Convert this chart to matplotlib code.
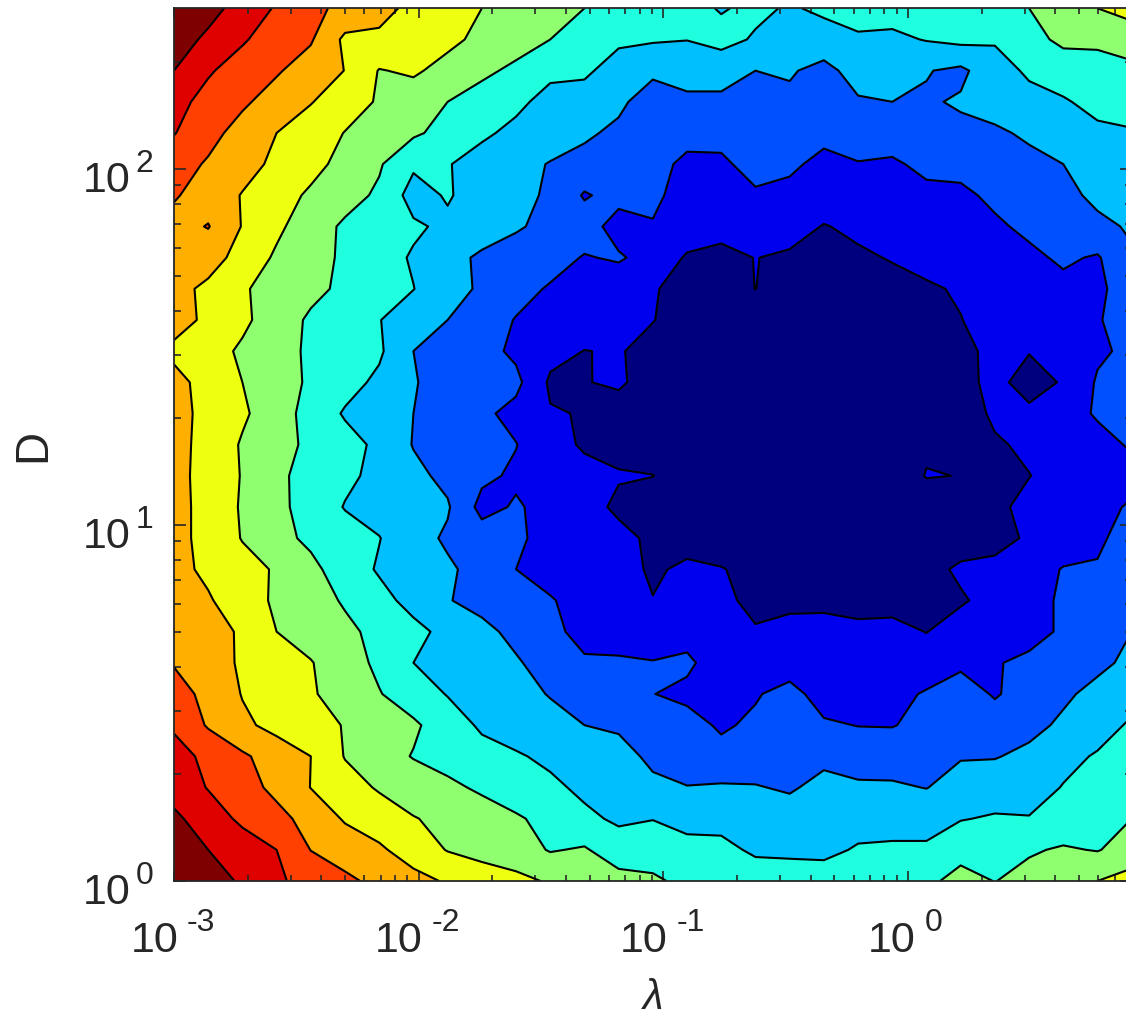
# -*- coding: utf-8 -*-
"""Filled contour map over lambda and D, both on log scales."""
import numpy as np
import matplotlib
matplotlib.use("Agg")
import matplotlib.pyplot as plt

# grid range in decades, the right edge of the axes runs past the picture
LOG_LAMBDA = np.linspace(-3, 0.915, 29)
LOG_D = np.linspace(2.452, 0, 29)   # top row first

LEVELS = [-1, 1, 2, 3, 4, 5, 6, 7, 8, 9, 10, 12]
LINE_LEVELS = [1, 2, 3, 4, 5, 6, 7, 8, 9, 10]
BAND_COLORS = ["#00007f", "#0000ef", "#0050ff", "#00bfff", "#1fffdf", "#8fff6f",
               "#efff10", "#ffaf00", "#ff4000", "#df0000", "#7f0000"]

X_MAJOR = [-3, -2, -1, 0]
Y_MAJOR = [0, 1, 2]

# values, one row per D, top row first
Z = np.array([
    [11.0, 10.35, 9.6, 8.9, 8.25, 7.75, 7.25, 6.8, 6.4, 6.0, 5.65, 5.35, 5.0, 4.7, 4.5, 4.3, 3.93, 4.2, 3.9, 4.18, 4.3, 4.4, 4.5, 4.6, 4.7, 5.0, 5.5, 6.0, 6.4],
    [10.48, 9.8, 9.1, 8.55, 8.1, 6.8, 6.85, 6.7, 6.25, 5.75, 5.4, 5.0, 4.7, 4.2, 4.1, 4.02, 4.3, 3.9, 3.6, 3.6, 3.9, 3.8, 4.05, 4.25, 4.1, 4.7, 5.2, 5.2, 5.4],
    [10.0, 9.1, 8.6, 8.1, 7.55, 6.98, 5.95, 6.15, 5.65, 5.2, 4.8, 4.2, 4.2, 3.5, 3.2, 3.4, 3.4, 3.0, 3.1, 2.7, 3.4, 3.5, 3.05, 2.8, 3.6, 4.15, 4.5, 4.6, 4.8],
    [9.3, 8.7, 8.15, 7.6, 7.05, 6.45, 5.9, 5.45, 5.0, 4.6, 4.2, 3.7, 3.5, 3.2, 2.5, 2.8, 2.8, 2.7, 2.8, 2.5, 2.9, 3.0, 2.9, 3.1, 3.4, 3.7, 3.9, 4.3, 4.5],
    [9.05, 8.3, 7.65, 7.0, 6.5, 5.97, 5.55, 5.15, 4.68, 4.15, 3.78, 3.47, 3.15, 2.8, 2.5, 2.3, 2.35, 2.4, 2.4, 2.3, 2.5, 2.5, 2.6, 2.8, 2.85, 3.15, 3.4, 3.8, 3.9],
    [8.4, 7.9, 7.35, 6.8, 6.3, 5.7, 5.1, 4.16, 4.05, 3.65, 3.3, 2.95, 2.7, 2.45, 2.3, 1.8, 1.8, 2.4, 2.2, 1.7, 1.95, 1.85, 2.25, 2.3, 2.55, 2.75, 3.0, 3.4, 3.6],
    [8.1, 7.55, 6.95, 6.4, 5.85, 5.35, 4.85, 3.6, 4.1, 3.5, 3.2, 2.9, 1.9, 2.35, 2.15, 1.7, 1.6, 1.85, 1.7, 1.55, 1.6, 1.5, 1.75, 1.8, 2.2, 2.45, 2.75, 3.2, 3.35],
    [7.65, 8.05, 6.95, 6.2, 5.45, 4.85, 4.5, 4.15, 3.8, 3.45, 3.1, 2.75, 2.5, 1.55, 1.95, 1.5, 1.3, 1.4, 1.4, 0.95, 1.2, 1.25, 1.35, 1.45, 1.85, 2.2, 2.5, 2.8, 3.1],
    [7.4, 7.4, 6.65, 5.85, 5.35, 4.85, 4.4, 3.9, 3.3, 2.85, 2.6, 2.4, 1.93, 2.12, 1.6, 0.9, 0.75, 1.02, 0.85, 0.6, 0.85, 1.06, 1.25, 1.4, 1.6, 1.8, 2.15, 1.9, 2.9],
    [7.3, 6.8, 6.1, 5.65, 5.25, 4.8, 4.4, 4.02, 3.4, 2.85, 2.35, 1.9, 1.6, 1.35, 1.07, 0.7, 0.6, 1.01, 0.6, 0.45, 0.5, 0.7, 0.9, 1.08, 1.4, 1.6, 1.75, 1.8, 2.5],
    [7.4, 6.8, 6.2, 5.5, 4.85, 4.45, 4.03, 3.5, 3.0, 2.5, 1.95, 1.75, 1.5, 1.27, 1.03, 0.6, 0.5, 0.5, 0.45, 0.35, 0.4, 0.5, 0.7, 0.98, 1.3, 1.5, 1.7, 1.9, 2.6],
    [6.78, 6.4, 5.85, 5.35, 4.85, 4.45, 4.15, 3.0, 2.6, 2.35, 1.8, 1.3, 0.98, 1.07, 0.7, 0.55, 0.4, 0.4, 0.4, 0.3, 0.3, 0.35, 0.5, 0.8, 1.2, 1.05, 1.45, 1.85, 2.2],
    [7.3, 6.65, 6.0, 5.45, 4.85, 4.35, 3.8, 3.05, 2.7, 2.35, 2.25, 0.85, 0.97, 1.1, 0.7, 0.5, 0.35, 0.3, 0.3, 0.25, 0.25, 0.3, 0.4, 0.65, 1.31, 0.55, 1.1, 2.1, 2.8],
    [7.3, 6.75, 6.15, 5.45, 4.65, 3.9, 3.45, 3.0, 2.6, 2.2, 1.7, 1.07, 0.95, 0.7, 0.5, 0.4, 0.3, 0.3, 0.25, 0.2, 0.2, 0.25, 0.35, 0.55, 1.15, 1.23, 1.6, 2.1, 2.6],
    [7.3, 6.7, 5.9, 5.35, 4.8, 4.35, 3.8, 2.95, 2.65, 2.35, 2.03, 1.3, 0.9, 0.7, 0.5, 0.35, 0.3, 0.25, 0.25, 0.2, 0.2, 0.3, 0.85, 0.7, 0.9, 1.15, 1.5, 1.7, 2.1],
    [7.35, 6.6, 5.95, 5.2, 4.65, 4.2, 3.75, 3.25, 2.75, 2.2, 1.85, 1.6, 1.25, 1.08, 1.02, 0.4, 0.3, 0.3, 0.25, 0.25, 0.25, 0.35, 1.05, 0.98, 0.7, 0.98, 1.3, 1.6, 1.7],
    [7.35, 6.65, 5.9, 5.25, 4.6, 3.95, 3.65, 3.35, 3.1, 1.7, 2.1, 1.7, 1.4, 0.8, 0.4, 0.3, 0.25, 0.3, 0.25, 0.25, 0.25, 0.3, 0.4, 0.55, 0.8, 1.25, 1.4, 1.75, 2.1],
    [7.3, 6.7, 5.95, 5.3, 4.8, 4.4, 4.03, 3.4, 2.85, 2.45, 2.1, 1.8, 1.5, 1.3, 0.8, 0.6, 0.45, 0.35, 0.3, 0.3, 0.3, 0.3, 0.4, 0.55, 0.75, 1.1, 1.4, 1.8, 2.5],
    [7.3, 6.8, 6.35, 5.9, 5.25, 4.5, 3.9, 3.5, 3.15, 2.65, 2.0, 1.75, 1.5, 1.4, 0.85, 1.2, 1.05, 0.7, 0.5, 0.4, 0.35, 0.4, 0.7, 1.15, 1.2, 1.5, 2.06, 2.1, 2.8],
    [7.7, 7.1, 6.45, 5.85, 5.4, 4.9, 4.3, 3.7, 3.05, 2.7, 2.4, 2.05, 1.75, 1.5, 1.03, 1.3, 1.35, 0.6, 0.85, 0.8, 0.7, 0.7, 0.6, 0.9, 1.3, 1.75, 2.1, 2.5, 2.9],
    [7.9, 7.6, 6.8, 6.0, 5.6, 5.2, 4.75, 4.25, 3.75, 3.25, 2.75, 2.2, 1.75, 1.5, 1.4, 1.6, 1.5, 1.13, 1.2, 1.3, 1.2, 1.25, 0.98, 1.4, 1.5, 1.75, 2.1, 2.6, 3.0],
    [7.95, 7.5, 6.85, 6.45, 6.05, 5.45, 4.8, 4.0, 3.7, 3.4, 3.1, 2.6, 2.1, 2.15, 2.05, 2.2, 1.43, 1.4, 1.4, 1.3, 1.3, 1.35, 1.4, 1.8, 1.95, 2.15, 2.4, 2.8, 3.2],
    [8.3, 7.8, 6.95, 6.5, 6.1, 5.6, 5.05, 4.5, 3.95, 3.6, 3.3, 2.95, 2.65, 2.3, 2.02, 1.75, 1.6, 1.9, 2.4, 1.5, 1.45, 1.7, 2.1, 2.5, 1.9, 2.45, 2.85, 3.25, 3.6],
    [8.85, 7.9, 7.2, 6.7, 6.35, 5.95, 5.55, 5.15, 4.5, 3.85, 3.55, 3.3, 3.0, 2.9, 2.6, 2.4, 1.85, 2.2, 2.5, 2.15, 1.97, 1.95, 2.3, 2.5, 2.5, 2.75, 3.15, 3.55, 4.15],
    [9.4, 8.75, 8.15, 7.55, 7.0, 5.95, 5.4, 4.95, 4.65, 4.35, 4.1, 3.8, 3.5, 3.25, 2.85, 2.55, 2.35, 2.55, 2.6, 2.8, 2.7, 2.65, 2.6, 2.95, 2.95, 3.2, 3.7, 4.1, 4.5],
    [9.6, 8.95, 8.4, 7.75, 6.98, 6.4, 5.9, 5.5, 5.2, 4.85, 4.55, 4.2, 3.8, 3.65, 3.15, 3.03, 3.1, 3.05, 2.9, 3.25, 3.1, 3.1, 2.98, 3.3, 3.5, 3.55, 4.05, 4.5, 4.85],
    [10.2, 9.5, 8.8, 8.3, 7.65, 6.9, 6.5, 6.05, 5.75, 5.45, 5.1, 4.75, 4.2, 3.85, 3.98, 3.7, 3.7, 3.4, 3.4, 3.35, 3.6, 3.5, 3.5, 3.95, 4.1, 4.05, 4.4, 4.8, 5.0],
    [10.9, 10.0, 9.5, 9.0, 7.98, 7.55, 7.15, 6.55, 5.95, 5.65, 5.45, 4.93, 5.1, 4.45, 4.4, 4.3, 4.25, 3.85, 3.8, 3.75, 4.1, 4.2, 4.2, 4.7, 4.7, 4.9, 5.1, 4.95, 5.4],
    [11.3, 10.5, 9.85, 9.15, 8.65, 8.2, 7.75, 7.3, 6.9, 6.55, 6.25, 5.9, 5.65, 5.35, 5.2, 4.7, 4.6, 4.5, 4.5, 4.5, 4.5, 4.6, 4.8, 5.3, 4.98, 5.3, 5.6, 6.0, 6.4],
])

INK = "#262626"
BASE_SIZE = 31
EXP_SIZE = 23

plt.rcParams["font.family"] = ["Liberation Sans", "DejaVu Sans"]

fig = plt.figure(figsize=(11.26, 10.19), dpi=100, facecolor="white")
W, H = 1126.0, 1019.0
ax = fig.add_axes([174 / W, (H - 881) / H, (1131.7 - 174) / W, (881 - 8.3) / H])

# the axes hold decades, contour vertices then stay straight between grid lines
ax.contourf(LOG_LAMBDA, LOG_D, Z, levels=LEVELS, colors=BAND_COLORS)
ax.contour(LOG_LAMBDA, LOG_D, Z, levels=LINE_LEVELS, colors="black", linewidths=1.5)
ax.set_xlim(LOG_LAMBDA[0], LOG_LAMBDA[-1])
ax.set_ylim(LOG_D[-1], LOG_D[0])

x_minor = [d + np.log10(m) for d in range(-3, 1) for m in range(2, 10)]
y_minor = [d + np.log10(m) for d in range(0, 3) for m in range(2, 10)]
ax.set_xticks(X_MAJOR)
ax.set_yticks(Y_MAJOR)
ax.set_xticks([v for v in x_minor if v < LOG_LAMBDA[-1]], minor=True)
ax.set_yticks([v for v in y_minor if v < LOG_D[0]], minor=True)
ax.set_xticklabels([])
ax.set_yticklabels([])


def power_label(xy, trans, base_off, exp_off, exp):
    """10 and its exponent as two texts, the reference sets the exponent large and high."""
    ax.annotate("10", xy=xy, xycoords=trans, xytext=base_off, textcoords="offset pixels",
                ha="right", va="baseline", fontsize=BASE_SIZE, color=INK, annotation_clip=False)
    ax.annotate(str(exp), xy=xy, xycoords=trans, xytext=exp_off, textcoords="offset pixels",
                ha="left", va="baseline", fontsize=EXP_SIZE, color=INK, annotation_clip=False)


for v in X_MAJOR:
    shift = 5 if v == 0 else 1
    power_label((v, 0), ax.get_xaxis_transform(), (shift + 3, -71), (shift + 12, -50), v)
for v in Y_MAJOR:
    power_label((0, v), ax.get_yaxis_transform(), (-43, -23), (-38.5, -2.5), v)

ax.tick_params(which="both", direction="in", top=True, right=True, color=INK, width=1.2)
ax.tick_params(axis="x", which="major", length=7.2)
ax.tick_params(axis="x", which="minor", length=4)
ax.tick_params(axis="y", which="major", length=8.4)
ax.tick_params(axis="y", which="minor", length=4.8)
for s in ax.spines.values():
    s.set_color(INK)
    s.set_linewidth(1.3)

fig.text(653 / W, 1 - 998 / H, "λ", style="italic", fontsize=30, color=INK, ha="center", va="center")
fig.text(33 / W, 1 - 445.5 / H, "D", fontsize=33, color=INK, rotation=90, ha="center", va="center")

fig.savefig("out.png", dpi=100)
plt.close(fig)
